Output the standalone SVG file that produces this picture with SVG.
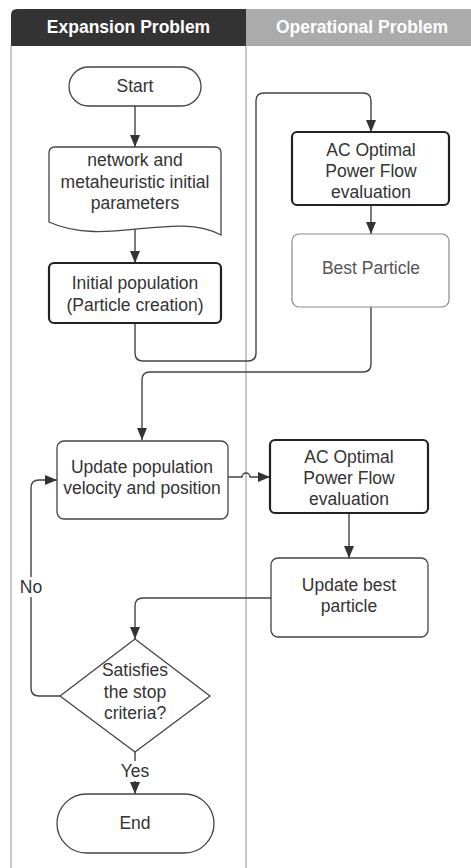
<svg xmlns="http://www.w3.org/2000/svg" width="471" height="868" viewBox="0 0 471 868">
<style>
text{font-family:"Liberation Sans",Arial,sans-serif;font-size:17.5px;fill:#333;text-anchor:middle}
.hd{font-weight:bold;fill:#fff}
.box{fill:#fff;stroke:#444;stroke-width:1.3}
.thick{fill:#fff;stroke:#222;stroke-width:2.2}
.light{fill:#fff;stroke:#8a8a8a;stroke-width:1.2}
.lane{stroke:#c8c8c8;stroke-width:2;fill:none}
.c{fill:none;stroke:#444;stroke-width:1.4;marker-end:url(#ah)}
.cn{fill:none;stroke:#444;stroke-width:1.4}
</style>
<defs>
<marker id="ah" markerUnits="userSpaceOnUse" markerWidth="12" markerHeight="12" viewBox="0 0 12 12" refX="12" refY="6" orient="auto">
<path d="M0,1 L12,6 L0,11 Z" fill="#333"/>
</marker>
</defs>
<rect width="471" height="868" fill="#fff"/>
<g id="lanes">
<path d="M11,46 V868 M246,46 V868" class="lane"/>
<path d="M11,46 V15 Q11,9 17,9 H246 V46 Z" fill="#333"/>
<rect x="246" y="9" width="225" height="37" fill="#ababab"/>
<text class="hd" x="128.5" y="33">Expansion Problem</text>
<text class="hd" x="362" y="33">Operational Problem</text>
</g>
<g id="connectors">
<path class="c" d="M135,106 V147"/>
<path class="c" d="M135,225 V263"/>
<path class="c" d="M135,323 V353 Q135,361 143,361 H248 Q256,361 256,353 V101 Q256,93 264,93 H363 Q371,93 371,101 V132"/>
<path class="c" d="M371,205 V234"/>
<path class="c" d="M371,307 V364 Q371,372 363,372 H150 Q142,372 142,380 V440"/>
<path class="c" d="M228,477 H242 A4,4 0 0 1 250,477 H270"/>
<path class="c" d="M349,513 V558"/>
<path class="c" d="M271,598 H143 Q135,598 135,606 V639"/>
<path class="c" d="M60,696 H39 Q31,696 31,688 V488 Q31,480 39,480 H57"/>
<path class="c" d="M135,752 V794"/>
<rect x="18" y="577" width="26" height="20" fill="#fff"/>
<text x="31" y="593">No</text>
<rect x="118" y="761" width="34" height="20" fill="#fff"/>
<text x="135" y="777">Yes</text>
</g>
<g id="start">
<rect class="box" x="69" y="67" width="132" height="39" rx="19.5"/>
<text x="135" y="92">Start</text>
</g>
<g id="params">
<path class="box" d="M49,222 V153 Q49,147 55,147 H215 Q221,147 221,153 V235 C175,210 105,248 49,222 Z"/>
<text x="135" y="166">network and</text>
<text x="135" y="188">metaheuristic initial</text>
<text x="135" y="209">parameters</text>
</g>
<g id="initpop">
<rect class="thick" x="49" y="263" width="172" height="60" rx="5"/>
<text x="135" y="289">Initial population</text>
<text x="135" y="311">(Particle creation)</text>
</g>
<g id="acopf1">
<rect class="thick" x="292" y="132" width="157" height="73" rx="5"/>
<text x="371" y="156">AC Optimal</text>
<text x="371" y="177">Power Flow</text>
<text x="371" y="198">evaluation</text>
</g>
<g id="best">
<rect class="light" x="292" y="234" width="157" height="73" rx="7"/>
<text x="371" y="274" style="fill:#555">Best Particle</text>
</g>
<g id="update">
<rect class="box" x="57" y="441" width="171" height="78" rx="7"/>
<text x="142" y="473">Update population</text>
<text x="142" y="494">velocity and position</text>
</g>
<g id="acopf2">
<rect class="thick" x="270" y="440" width="158" height="73" rx="5"/>
<text x="349" y="463">AC Optimal</text>
<text x="349" y="484">Power Flow</text>
<text x="349" y="505">evaluation</text>
</g>
<g id="updatebest">
<rect class="box" x="271" y="558" width="157" height="79" rx="7"/>
<text x="349" y="591">Update best</text>
<text x="349" y="612">particle</text>
</g>
<g id="decision">
<path class="box" stroke-linejoin="round" d="M135,639 L210,696 L135,752 L60,696 Z"/>
<text x="135" y="676">Satisfies</text>
<text x="135" y="698">the stop</text>
<text x="135" y="719">criteria?</text>
</g>
<g id="end">
<rect class="box" x="57" y="794" width="157" height="59" rx="29.5"/>
<text x="135" y="829">End</text>
</g>
</svg>
